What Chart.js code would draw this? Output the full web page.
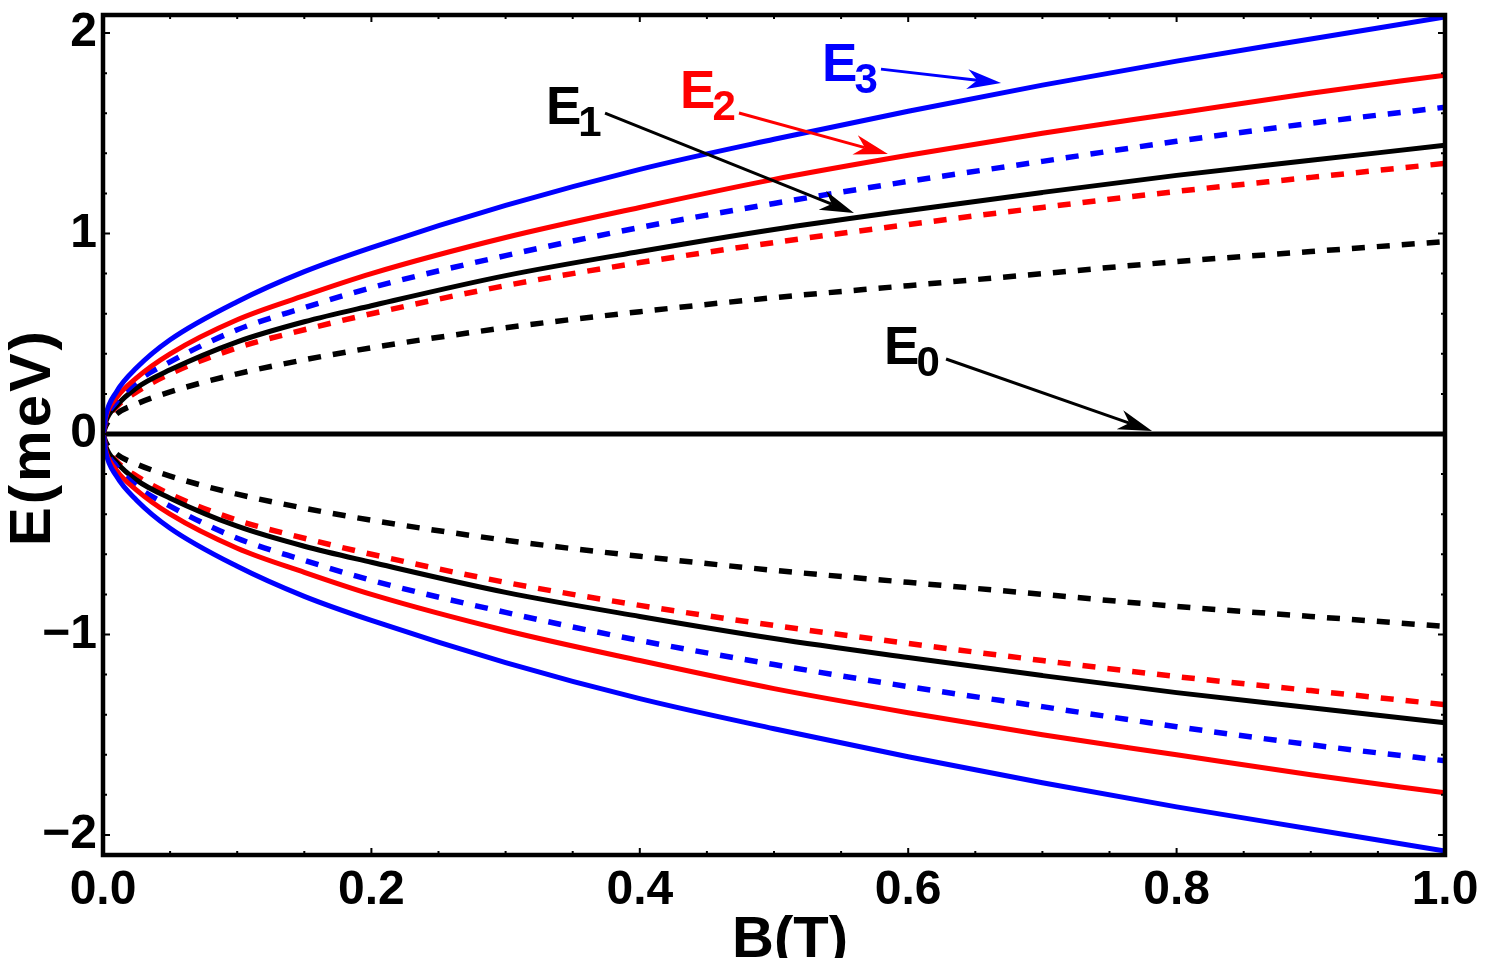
<!DOCTYPE html>
<html>
<head>
<meta charset="utf-8">
<script src="https://cdn.jsdelivr.net/npm/chart.js@4.4.1/dist/chart.umd.min.js"></script>
<style>
  html, body { margin: 0; padding: 0; background: #fff; }
  #wrap { width: 1512px; height: 958px; position: relative; }
</style>
</head>
<body>
<div id="wrap"><canvas id="chart"></canvas></div>
<script>
// magnetic field samples (T)
const fieldB = [0, 0.002, 0.01, 0.025, 0.05, 0.1, 0.15, 0.2, 0.3, 0.4, 0.5, 0.6, 0.7, 0.8, 0.9, 1.0];

// upper branches (meV)
const e3Solid  = [0, 0.09, 0.21, 0.33, 0.47, 0.66, 0.81, 0.93, 1.14, 1.32, 1.47, 1.61, 1.74, 1.86, 1.97, 2.08];
const e2Solid  = [0, 0.08, 0.18, 0.28, 0.40, 0.57, 0.69, 0.80, 0.98, 1.13, 1.27, 1.39, 1.50, 1.60, 1.70, 1.79];
const e3Dashed = [0, 0.07, 0.16, 0.26, 0.36, 0.52, 0.63, 0.73, 0.89, 1.03, 1.15, 1.26, 1.36, 1.46, 1.55, 1.63];
const e1Solid  = [0, 0.06, 0.14, 0.23, 0.32, 0.46, 0.56, 0.64, 0.79, 0.91, 1.02, 1.115, 1.205, 1.29, 1.365, 1.44];
const e2Dashed = [0, 0.06, 0.135, 0.21, 0.30, 0.43, 0.52, 0.60, 0.74, 0.855, 0.955, 1.045, 1.13, 1.21, 1.28, 1.35];
const e1Dashed = [0, 0.04, 0.10, 0.15, 0.21, 0.30, 0.37, 0.43, 0.53, 0.61, 0.68, 0.74, 0.80, 0.86, 0.91, 0.96];

// lower branches (meV)
const e3SolidLow  = [0, -0.09, -0.21, -0.33, -0.47, -0.66, -0.81, -0.93, -1.14, -1.32, -1.47, -1.61, -1.74, -1.86, -1.97, -2.08];
const e2SolidLow  = [0, -0.08, -0.18, -0.28, -0.40, -0.57, -0.69, -0.80, -0.98, -1.13, -1.27, -1.39, -1.50, -1.60, -1.70, -1.79];
const e3DashedLow = [0, -0.07, -0.16, -0.26, -0.36, -0.52, -0.63, -0.73, -0.89, -1.03, -1.15, -1.26, -1.36, -1.46, -1.55, -1.63];
const e1SolidLow  = [0, -0.06, -0.14, -0.23, -0.32, -0.46, -0.56, -0.64, -0.79, -0.91, -1.02, -1.115, -1.205, -1.29, -1.365, -1.44];
const e2DashedLow = [0, -0.06, -0.135, -0.21, -0.30, -0.43, -0.52, -0.60, -0.74, -0.855, -0.955, -1.045, -1.13, -1.21, -1.28, -1.35];
const e1DashedLow = [0, -0.04, -0.10, -0.15, -0.21, -0.30, -0.37, -0.43, -0.53, -0.61, -0.68, -0.74, -0.80, -0.86, -0.91, -0.96];

// zero mode
const e0Field = [0, 1.0];
const e0Line  = [0, 0];

// tick labels
const xTicks = [0, 0.2, 0.4, 0.6, 0.8, 1.0];
const yTicks = [-2, -1, 0, 1, 2];

// level labels with arrows (data coords)
const levelLabels = [
  { name: "E", sub: "3", color: "#0000ff", at: [0.5358, 1.761], from: [0.5797, 1.820], to: [0.6692, 1.751] },
  { name: "E", sub: "2", color: "#ff0000", at: [0.4300, 1.626], from: [0.4739, 1.601], to: [0.5849, 1.397] },
  { name: "E", sub: "1", color: "#000000", at: [0.3301, 1.546], from: [0.3741, 1.601], to: [0.5596, 1.102] },
  { name: "E", sub: "0", color: "#000000", at: [0.5820, 0.349], from: [0.6282, 0.374], to: [0.7817, 0.015] }
];

const FONT = "'Liberation Sans', Arial, sans-serif";
const BLUE = "#0000ff", RED = "#ff0000", BLACK = "#000000";

function pts(xs, ys) {
  return xs.map((x, i) => ({ x: x, y: ys[i] }));
}

function line(data, color, dashed) {
  return {
    data: pts(fieldB, data),
    borderColor: color,
    borderWidth: dashed ? 5.5 : 5,
    borderDash: dashed ? [13, 12] : [],
    borderCapStyle: "butt",
    pointRadius: 0,
    cubicInterpolationMode: "monotone",
    fill: false
  };
}

// frame, inward ticks, axis titles, level labels
const decorations = {
  id: "decorations",
  afterDraw(chart) {
    const { ctx, chartArea: a, scales } = chart;
    const xs = scales.x, ys = scales.y;
    ctx.save();

    // inward ticks on all four sides
    ctx.strokeStyle = BLACK;
    ctx.lineWidth = 2;
    for (let i = 0; i <= 20; i++) {
      const v = i * 0.05;
      const px = xs.getPixelForValue(v);
      const len = i % 4 === 0 ? 7 : 4;
      ctx.beginPath();
      ctx.moveTo(px, a.bottom); ctx.lineTo(px, a.bottom - len);
      ctx.moveTo(px, a.top); ctx.lineTo(px, a.top + len);
      ctx.stroke();
    }
    for (let i = -10; i <= 10; i++) {
      const v = i * 0.2;
      const py = ys.getPixelForValue(v);
      const len = i % 5 === 0 ? 7 : 4;
      ctx.beginPath();
      ctx.moveTo(a.left, py); ctx.lineTo(a.left + len, py);
      ctx.moveTo(a.right, py); ctx.lineTo(a.right - len, py);
      ctx.stroke();
    }

    // frame
    ctx.lineWidth = 4.5;
    ctx.strokeRect(a.left, a.top, a.right - a.left, a.bottom - a.top);

    // axis titles
    ctx.fillStyle = BLACK;
    ctx.font = "bold 58px " + FONT;
    ctx.textAlign = "center";
    ctx.textBaseline = "alphabetic";
    ctx.fillText("B(T)", (a.left + a.right) / 2 + 16, 957);
    ctx.save();
    ctx.translate(50, (a.top + a.bottom) / 2 + 2);
    ctx.rotate(-Math.PI / 2);
    ctx.letterSpacing = "3px";
    ctx.fillText("E(meV)", 0, 0);
    ctx.restore();

    // level labels and arrows
    levelLabels.forEach(l => {
      ctx.fillStyle = l.color;
      ctx.strokeStyle = l.color;
      const tx = xs.getPixelForValue(l.at[0]);
      const ty = ys.getPixelForValue(l.at[1]);
      ctx.textAlign = "left";
      ctx.font = "bold 53px " + FONT;
      ctx.fillText(l.name, tx, ty);
      const w = ctx.measureText(l.name).width;
      ctx.font = "bold 42px " + FONT;
      ctx.fillText(l.sub, tx + w - 3, ty + 12);

      const x1 = xs.getPixelForValue(l.from[0]), y1 = ys.getPixelForValue(l.from[1]);
      const x2 = xs.getPixelForValue(l.to[0]), y2 = ys.getPixelForValue(l.to[1]);
      const ang = Math.atan2(y2 - y1, x2 - x1);
      const L = 34, W = 10, notch = 24;
      ctx.lineWidth = 3;
      ctx.beginPath();
      ctx.moveTo(x1, y1);
      ctx.lineTo(x2 - Math.cos(ang) * notch, y2 - Math.sin(ang) * notch);
      ctx.stroke();
      ctx.save();
      ctx.translate(x2, y2);
      ctx.rotate(ang);
      ctx.beginPath();
      ctx.moveTo(0, 0);
      ctx.lineTo(-L, -W);
      ctx.lineTo(-notch, 0);
      ctx.lineTo(-L, W);
      ctx.closePath();
      ctx.fill();
      ctx.restore();
    });

    ctx.restore();
  }
};

new Chart(document.getElementById("chart"), {
  type: "line",
  data: {
    datasets: [
      line(e3Solid, BLUE, false),
      line(e2Solid, RED, false),
      line(e3Dashed, BLUE, true),
      line(e1Solid, BLACK, false),
      line(e2Dashed, RED, true),
      line(e1Dashed, BLACK, true),
      line(e3SolidLow, BLUE, false),
      line(e2SolidLow, RED, false),
      line(e3DashedLow, BLUE, true),
      line(e1SolidLow, BLACK, false),
      line(e2DashedLow, RED, true),
      line(e1DashedLow, BLACK, true),
      {
        data: pts(e0Field, e0Line),
        borderColor: BLACK,
        borderWidth: 5,
        pointRadius: 0,
        fill: false
      }
    ]
  },
  options: {
    responsive: true,
    maintainAspectRatio: false,
    animation: false,
    events: [],
    layout: { padding: { top: 15, right: 67, bottom: 0, left: 0 } },
    plugins: {
      legend: { display: false },
      tooltip: { enabled: false }
    },
    scales: {
      x: {
        type: "linear",
        min: 0,
        max: 1,
        border: { display: false },
        grid: { display: false, drawTicks: false },
        afterBuildTicks: s => { s.ticks = xTicks.map(v => ({ value: v })); },
        afterFit: s => {
          s.height = 103;
          s.paddingLeft = 0; s.paddingRight = 0; s.paddingTop = 0; s.paddingBottom = 0;
        },
        ticks: {
          color: BLACK,
          padding: 7,
          maxRotation: 0,
          autoSkip: false,
          font: { family: FONT, size: 48, weight: "bold", lineHeight: 1.2 },
          callback: v => v.toFixed(1)
        }
      },
      y: {
        type: "linear",
        min: -2.1,
        max: 2.09,
        border: { display: false },
        grid: { display: false, drawTicks: false },
        afterBuildTicks: s => { s.ticks = yTicks.map(v => ({ value: v })); },
        afterFit: s => {
          s.width = 103;
          s.paddingLeft = 0; s.paddingRight = 0; s.paddingTop = 0; s.paddingBottom = 0;
        },
        ticks: {
          color: BLACK,
          padding: 6,
          autoSkip: false,
          font: { family: FONT, size: 48, weight: "bold", lineHeight: 0.6 },
          callback: v => (v < 0 ? "\u2212" + Math.abs(v) : String(v))
        }
      }
    }
  },
  plugins: [decorations]
});
</script>
</body>
</html>
